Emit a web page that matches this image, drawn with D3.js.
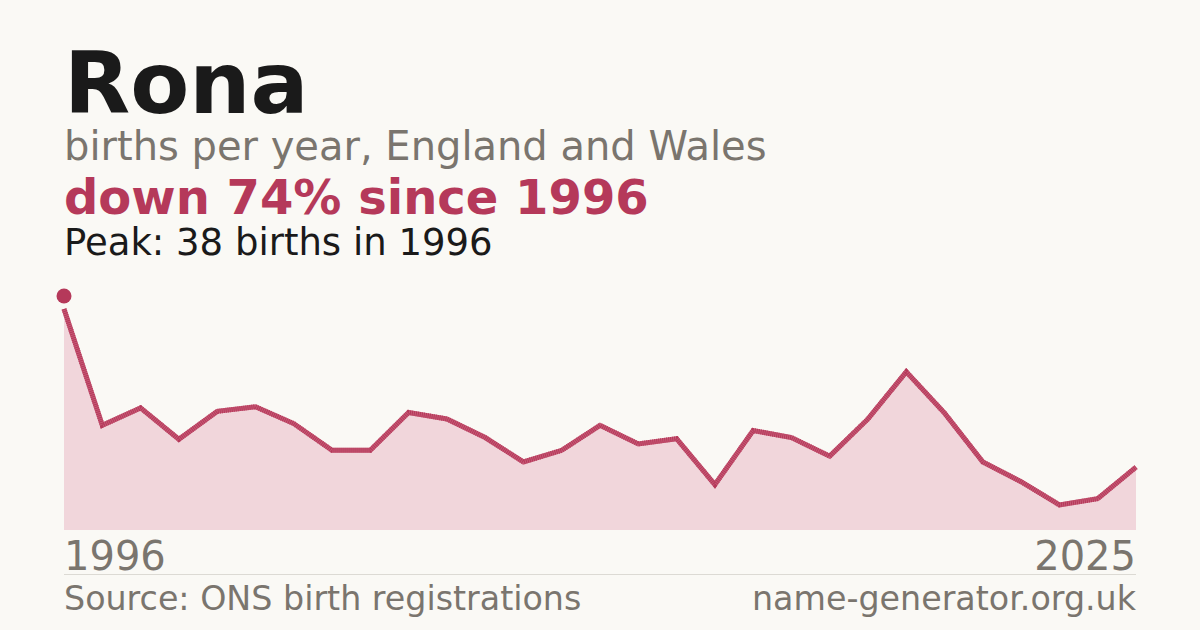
<!DOCTYPE html>
<html>
<head>
<meta charset="utf-8">
<script src="https://cdn.jsdelivr.net/npm/d3@7.9.0/dist/d3.min.js"></script>
<style>
  html, body { margin: 0; padding: 0; background: #faf9f5; }
  svg { display: block; font-family: "DejaVu Sans", sans-serif; }
</style>
</head>
<body>
<svg id="chart" width="1200" height="630"></svg>
<script>
// births per year for "Rona" (one year has no published count, so 29 points)
const years = [1996, 1997, 1998, 1999, 2000, 2001, 2002, 2003, 2004, 2005,
  2006, 2007, 2008, 2009, 2010, 2011, 2012, 2013, 2014, 2015,
  2016, 2017, 2018, 2019, 2020, 2021, 2022, 2023, 2025];
const births = [38, 18, 21, 15.6, 20.4, 21.2, 18.3, 13.7, 13.7, 20.2,
  19.1, 15.9, 11.7, 13.7, 18, 14.8, 15.7, 7.8, 17.1, 15.9,
  12.7, 19.1, 27.2, 20.1, 11.7, 8.3, 4.3, 5.4, 10.8];
const tickLabels = ["1996", "2025"];

const title = "Rona";
const subtitle = "births per year, England and Wales";
const headline = "down 74% since 1996";
const peakNote = "Peak: 38 births in 1996";
const source = "Source: ONS birth registrations";
const site = "name-generator.org.uk";

const accent = "#b5395a";
const grey = "#7a756e";

const svg = d3.select("#chart");
const plotLeft = 64, plotRight = 1136, plotBase = 530, plotTop = 309;

const x = d3.scalePoint().domain(d3.range(years.length)).range([plotLeft, plotRight]);
const y = d3.scaleLinear().domain([0, d3.max(births)]).range([plotBase, plotTop]);

const data = births.map((v, i) => ({ i, v }));

svg.append("path")
  .datum(data)
  .attr("fill", "#f1d6db")
  .attr("d", d3.area().x(d => x(d.i)).y0(plotBase).y1(d => y(d.v)));

const line = d3.line().x(d => x(d.i)).y(d => y(d.v));

svg.append("path")
  .datum(data)
  .attr("fill", "none")
  .attr("stroke", "#c65a76")
  .attr("stroke-width", 5)
  .attr("d", line);

svg.append("path")
  .datum(data)
  .attr("fill", "none")
  .attr("stroke", accent)
  .attr("stroke-width", 5)
  .attr("stroke-dasharray", "1,1")
  .attr("d", line);

// peak marker sits just above the first point
let peakIdx = d3.maxIndex(births);
svg.append("circle")
  .attr("cx", x(peakIdx))
  .attr("cy", y(births[peakIdx]) - 13)
  .attr("r", 7.5)
  .attr("fill", accent);

// texts
svg.append("text").attr("x", 64).attr("y", 113)
  .attr("font-size", 86).attr("font-weight", "bold").attr("fill", "#1a1a1a")
  .text(title);
svg.append("text").attr("x", 64).attr("y", 160)
  .attr("font-size", 40).attr("fill", grey)
  .text(subtitle);
svg.append("text").attr("x", 64).attr("y", 214)
  .attr("font-size", 48).attr("font-weight", "bold").attr("fill", accent)
  .text(headline);
svg.append("text").attr("x", 64).attr("y", 255)
  .attr("font-size", 37).attr("fill", "#1a1a1a")
  .text(peakNote);

// first / last year labels
svg.append("text").attr("x", x(0)).attr("y", 570)
  .attr("font-size", 40).attr("fill", grey)
  .text(tickLabels[0]);
svg.append("text").attr("x", x(years.length - 1)).attr("y", 570)
  .attr("text-anchor", "end")
  .attr("font-size", 40).attr("fill", grey)
  .text(tickLabels[1]);

svg.append("line")
  .attr("x1", plotLeft).attr("x2", plotRight)
  .attr("y1", 574.5).attr("y2", 574.5)
  .attr("stroke", "#dcdad4").attr("stroke-width", 1);

svg.append("text").attr("x", 64).attr("y", 610)
  .attr("font-size", 33.3).attr("fill", grey)
  .text(source);
svg.append("text").attr("x", plotRight).attr("y", 610)
  .attr("text-anchor", "end")
  .attr("font-size", 33.3).attr("fill", grey)
  .text(site);
</script>
</body>
</html>
